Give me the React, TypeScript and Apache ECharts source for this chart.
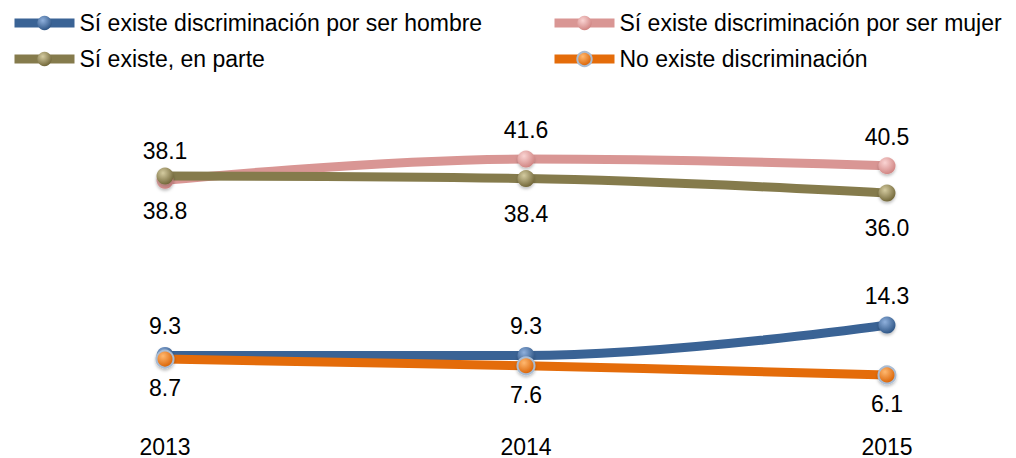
import React, { useEffect, useRef } from "react";
import * as echarts from "echarts";

const years = ["2013", "2014", "2015"];
const seriesNames = [
  "Sí existe discriminación por ser hombre",
  "Sí existe discriminación por ser mujer",
  "Sí existe, en parte",
  "No existe discriminación",
];
const hombre = [9.3, 9.3, 14.3];
const mujer = [38.1, 41.6, 40.5];
const enParte = [38.8, 38.4, 36.0];
const noExiste = [8.7, 7.6, 6.1];

const FONT = "Liberation Sans";

function sphere(light: string, dark: string) {
  return {
    type: "radial",
    x: 0.38,
    y: 0.32,
    r: 0.7,
    colorStops: [
      { offset: 0, color: light },
      { offset: 1, color: dark },
    ],
  } as any;
}

export default function App() {
  const ref = useRef<HTMLDivElement>(null);
  useEffect(() => {
    document.body.style.margin = "0";
    const chart = echarts.init(ref.current!, undefined, { renderer: "svg" });
    const mk = (
      name: string,
      data: number[],
      lineColor: string,
      light: string,
      dark: string,
      pos: "top" | "bottom",
      dist: number,
      border?: string
    ) => ({
      name,
      type: "line",
      data,
      smooth: 0.4,
      symbol: "circle",
      symbolSize: 17,
      lineStyle: { color: lineColor, width: 9 },
      itemStyle: {
        color: sphere(light, dark),
        borderColor: border || dark,
        borderWidth: border ? 2 : 0,
        shadowColor: "rgba(0,0,0,0.25)",
        shadowBlur: 3,
        shadowOffsetY: 2,
      },
      label: {
        show: true,
        position: pos,
        distance: dist,
        color: "#000",
        fontFamily: FONT,
        fontSize: 23,
        formatter: (p: any) => Number(p.value).toFixed(1),
      },
      emphasis: { disabled: true },
    });
    const legendText = { color: "#000", fontFamily: FONT, fontSize: 23, lineHeight: 26 };
    const legendBase = {
      orient: "vertical",
      top: 5,
      itemGap: 10,
      itemWidth: 60,
      itemHeight: 18,
      textStyle: legendText,
      selectedMode: false,
      lineStyle: { width: 9 },
    };
    chart.setOption({
      animation: false,
      legend: [
        { ...legendBase, data: [seriesNames[0], seriesNames[2]], left: 5 },
        { ...legendBase, data: [seriesNames[1], seriesNames[3]], left: 545 },
      ],
      grid: { left: 165, right: 129, top: 108, bottom: 45 },
      xAxis: {
        type: "category",
        data: years,
        boundaryGap: false,
        axisLine: { show: false },
        axisTick: { show: false },
        axisLabel: { color: "#000", fontFamily: FONT, fontSize: 23, margin: 23 },
      },
      yAxis: { type: "value", min: 0, max: 50, show: false, splitLine: { show: false } },
      series: [
        mk(seriesNames[0], hombre, "#3A6395", "#8FB0DC", "#2E5585", "top", 9),
        mk(seriesNames[1], mujer, "#D99694", "#FAD4D3", "#D08482", "top", 9),
        mk(seriesNames[2], enParte, "#857B4C", "#D4CBA0", "#716638", "bottom", 15),
        mk(seriesNames[3], noExiste, "#E46C0A", "#FFB870", "#D85F00", "bottom", 8, "#A9BCD3"),
      ],
    });
    return () => chart.dispose();
  }, []);
  return <div ref={ref} style={{ width: 1016, height: 458 }} />;
}
